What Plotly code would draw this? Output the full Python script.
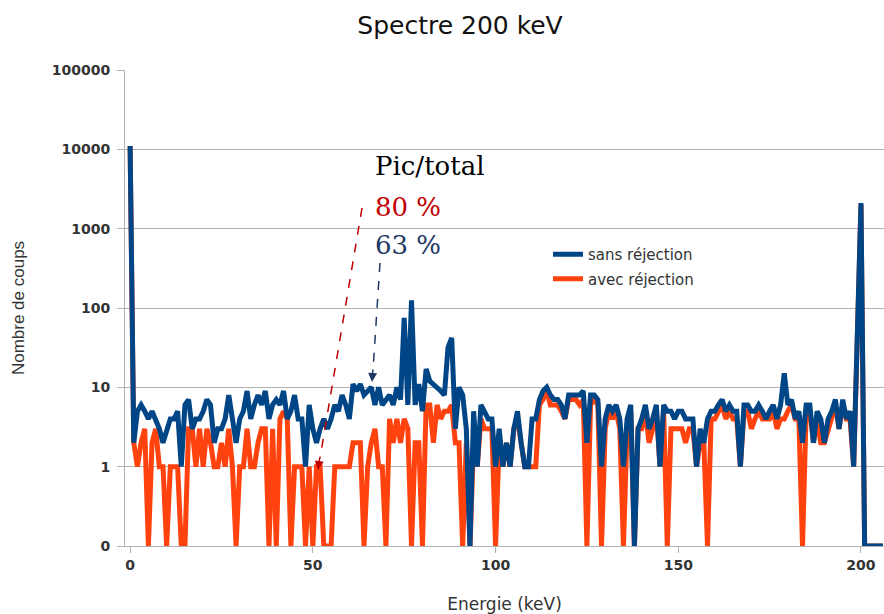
import plotly.graph_objects as go

# Energy channels (keV), one per keV
energie_kev = list(range(0, 207))

# Counts per channel without pile-up rejection
coups_sans_rejection = [
    11000, 2, 5, 6, 5, 4, 5, 4, 3, 2,
    3, 4, 4, 5, 1, 6, 7, 3, 4, 4,
    5, 7, 6, 2, 3, 3, 4, 8, 4, 2,
    4, 5, 9, 4, 6, 8, 6, 9, 4, 6,
    7, 6, 9, 4, 5, 8, 4, 4, 1, 6,
    3, 2, 3, 4, 3, 4, 6, 5, 8, 6,
    4, 11, 9, 11, 8, 9, 10, 6, 10, 6,
    7, 8, 6, 10, 7, 75, 6, 125, 6, 11,
    5, 17, 12, 11, 10, 9, 8, 32, 42, 3,
    10, 8, 3, 0, 5, 1, 6, 5, 4, 4,
    1, 3, 1, 2, 1, 3, 5, 2, 1, 1,
    4, 4, 7, 9, 10, 8, 7, 7, 6, 4,
    8, 8, 8, 8, 9, 2, 8, 8, 7, 1,
    4, 6, 5, 6, 4, 1, 4, 6, 0, 3,
    4, 6, 3, 4, 6, 1, 6, 5, 5, 4,
    5, 5, 4, 4, 4, 1, 3, 2, 4, 5,
    5, 6, 7, 5, 6, 5, 5, 1, 6, 6,
    5, 5, 6, 5, 4, 5, 6, 4, 6, 15,
    6, 7, 4, 5, 2, 6, 6, 2, 5, 4,
    2, 4, 5, 7, 3, 7, 4, 5, 1, 45,
    2100, 0, 0, 0, 0, 0, 0,
]

# Counts per channel with pile-up rejection
coups_avec_rejection = [
    11000, 2, 1, 2, 3, 0, 2, 3, 1, 1,
    0, 1, 1, 1, 0, 0, 3, 3, 1, 3,
    1, 3, 2, 1, 1, 2, 1, 3, 1, 0,
    1, 1, 3, 1, 1, 2, 3, 3, 0, 3,
    0, 4, 5, 4, 0, 1, 1, 1, 0, 1,
    0, 1, 1, 0, 0, 0, 1, 1, 1, 1,
    1, 2, 2, 2, 0, 1, 2, 3, 1, 1,
    0, 4, 2, 4, 2, 4, 3, 0, 2, 2,
    0, 6, 6, 2, 6, 4, 5, 5, 6, 2,
    2, 0, 2, 0, 2, 1, 4, 3, 3, 3,
    0, 2, 1, 2, 1, 3, 4, 2, 1, 1,
    1, 1, 6, 7, 9, 6, 6, 6, 5, 4,
    7, 7, 7, 6, 7, 0, 6, 7, 6, 0,
    3, 5, 4, 5, 3, 0, 3, 5, 0, 3,
    3, 5, 2, 3, 5, 1, 5, 0, 3, 3,
    3, 3, 2, 3, 3, 1, 2, 2, 0, 4,
    4, 5, 6, 4, 5, 4, 4, 1, 5, 5,
    3, 4, 5, 4, 4, 4, 5, 3, 4, 4,
    5, 6, 4, 4, 0, 5, 5, 2, 4, 2,
    2, 3, 4, 6, 3, 6, 4, 4, 1, 40,
    2000, 0, 0, 0, 0, 0, 0,
]

# Log axis: a count of 0 is drawn on the "0" baseline, one decade below 1
ZERO_LEVEL = 0.1
y_tick_vals = [0.1, 1, 10, 100, 1000, 10000, 100000]
y_tick_text = ["0", "1", "10", "100", "1000", "10000", "100000"]
x_tick_vals = [0, 50, 100, 150, 200]


def on_log_axis(values):
    return [v if v > 0 else ZERO_LEVEL for v in values]


BLUE = "#004586"
ORANGE = "#ff420e"
GRID = "#b3b3b3"
TEXT = "#333333"

fig = go.Figure()
# Orange drawn first so the blue series sits on top; legend lists blue first
fig.add_trace(go.Scatter(
    x=energie_kev, y=on_log_axis(coups_avec_rejection),
    mode="lines", name="avec réjection", legendgroup="avec", legendrank=2,
    line=dict(color=ORANGE, width=5),
))
fig.add_trace(go.Scatter(
    x=energie_kev, y=on_log_axis(coups_sans_rejection),
    mode="lines", name="sans réjection", legendgroup="sans", legendrank=1,
    line=dict(color=BLUE, width=5),
))

# Plot-area geometry in pixels, used to place the overlaid callouts
L, R, T, B = 125, 884, 70, 546


def px(xp):
    return (xp - L) / (R - L)


def py(yp):
    return (B - yp) / (B - T)


# Dashed arrow shafts
fig.add_shape(type="line", xref="paper", yref="paper",
              x0=px(362), y0=py(208), x1=px(320), y1=py(458),
              line=dict(color="#c00000", width=1.5, dash="dash"))
fig.add_shape(type="line", xref="paper", yref="paper",
              x0=px(380), y0=py(263), x1=px(373), y1=py(370),
              line=dict(color="#1f3864", width=1.5, dash="dash"))

# Arrow heads
fig.add_annotation(xref="paper", yref="paper", x=px(318), y=py(470),
                   axref="pixel", ayref="pixel", ax=2, ay=-14, text="",
                   showarrow=True, arrowhead=2, arrowsize=1.2, arrowwidth=1.5,
                   arrowcolor="#c00000")
fig.add_annotation(xref="paper", yref="paper", x=px(372), y=py(382),
                   axref="pixel", ayref="pixel", ax=1, ay=-14, text="",
                   showarrow=True, arrowhead=2, arrowsize=1.2, arrowwidth=1.5,
                   arrowcolor="#1f3864")

# Peak-to-total ratios
SERIF = "DejaVu Serif"
fig.add_annotation(xref="paper", yref="paper", x=px(373), y=py(166),
                   xanchor="left", yanchor="middle", showarrow=False,
                   text="Pic/total", font=dict(family=SERIF, size=26, color="#000000"))
fig.add_annotation(xref="paper", yref="paper", x=px(373), y=py(207),
                   xanchor="left", yanchor="middle", showarrow=False,
                   text="80 %", font=dict(family=SERIF, size=26, color="#c00000"))
fig.add_annotation(xref="paper", yref="paper", x=px(373), y=py(245),
                   xanchor="left", yanchor="middle", showarrow=False,
                   text="63 %", font=dict(family=SERIF, size=26, color="#1f3864"))

SANS = "DejaVu Sans"
fig.update_layout(
    width=884, height=614,
    margin=dict(l=L, r=884 - R, t=T, b=614 - B),
    paper_bgcolor="white", plot_bgcolor="white",
    title=dict(text="Spectre 200 keV", x=460 / 884, xanchor="center",
               y=1 - 25 / 614, yanchor="middle", yref="container",
               font=dict(family=SANS, size=25, color="#111111")),
    showlegend=True,
    legend=dict(x=px(548), y=py(238), xanchor="left", yanchor="top",
                traceorder="grouped", tracegroupgap=2,
                bgcolor="rgba(0,0,0,0)",
                font=dict(family=SANS, size=15, color=TEXT)),
    xaxis=dict(
        range=[-1.4, 206.3], tickvals=x_tick_vals,
        showgrid=False, zeroline=False,
        showline=True, linecolor=GRID, linewidth=1,
        ticks="outside", ticklen=6, tickcolor=GRID,
        tickfont=dict(family=SANS, size=14, color=TEXT, weight="bold"),
        title=dict(text="Energie (keV)", standoff=27,
                   font=dict(family=SANS, size=17, color=TEXT)),
    ),
    yaxis=dict(
        type="log", range=[-1, 5],
        tickvals=y_tick_vals, ticktext=y_tick_text,
        showgrid=True, gridcolor=GRID, gridwidth=1,
        showline=True, linecolor=GRID, linewidth=1,
        ticks="outside", ticklen=7, tickcolor=GRID,
        ticklabelstandoff=4,
        tickfont=dict(family=SANS, size=14, color=TEXT, weight="bold"),
        title=dict(text="Nombre de coups", standoff=22,
                   font=dict(family="Liberation Sans", size=17, color=TEXT)),
    ),
)

fig.write_html("out.html")
